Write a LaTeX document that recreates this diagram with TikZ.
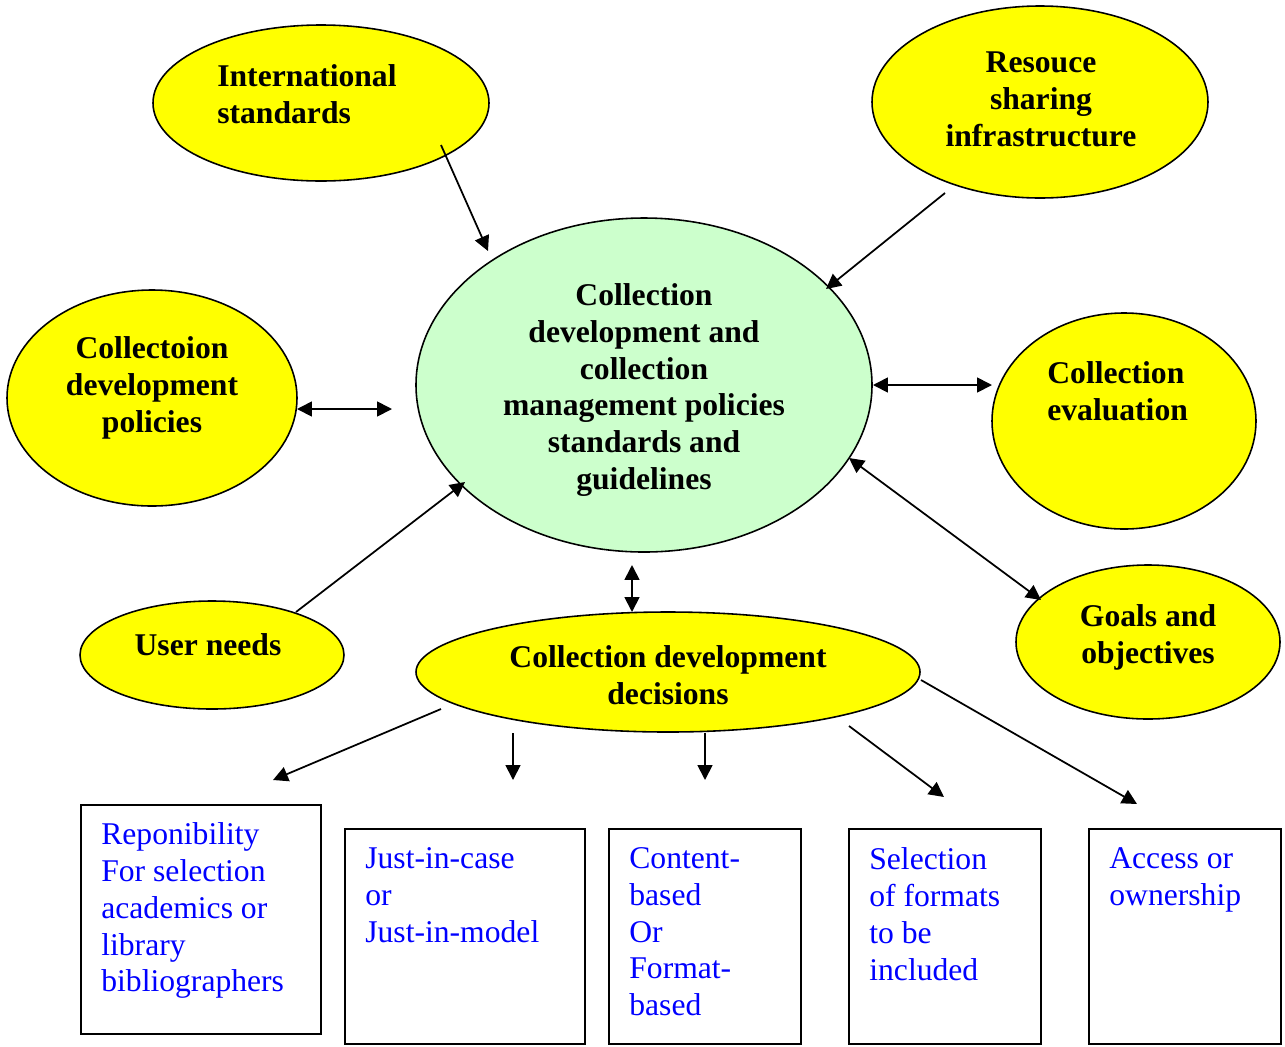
\documentclass[tikz,border=0pt]{standalone}
\usepackage{fontspec}
\setmainfont{Liberation Serif}
\usetikzlibrary{arrows.meta,shapes.geometric}
\definecolor{ylw}{HTML}{FFFF00}
\definecolor{lgreen}{HTML}{CCFFCC}
\definecolor{btext}{HTML}{0000FF}
\begin{document}
\begin{tikzpicture}[x=0.02cm,y=-0.02cm,
  ell/.style={ellipse, draw, line width=0.9pt, fill=ylw, inner sep=0pt},
  lbl/.style={font=\fontsize{18}{21}\selectfont\bfseries, align=center, inner sep=0pt},
  boxn/.style={draw, line width=1.1pt, anchor=north west, inner sep=0pt, outer sep=0pt},
  btxt/.style={font=\fontsize{18}{21}\selectfont, text=btext, align=left, anchor=north west, inner sep=0pt},
  tip/.tip={Triangle[length=8.5pt,width=8.5pt]},
  arr/.style={line width=1pt, -tip},
  darr/.style={line width=1pt, tip-tip}]
\useasboundingbox (0,0) rectangle (1285,1046);

% ellipses
\node[ell, minimum width=336*0.02cm, minimum height=156*0.02cm] (intl) at (321,103) {};
\node[ell, minimum width=336*0.02cm, minimum height=192*0.02cm] (res) at (1040,102) {};
\node[ell, minimum width=290*0.02cm, minimum height=216*0.02cm] (pol) at (152,398) {};
\node[ell, fill=lgreen, minimum width=456*0.02cm, minimum height=334*0.02cm] (cen) at (644,385) {};
\node[ell, minimum width=264*0.02cm, minimum height=216*0.02cm] (eval) at (1124,421) {};
\node[ell, minimum width=264*0.02cm, minimum height=108*0.02cm] (user) at (212,655) {};
\node[ell, minimum width=264*0.02cm, minimum height=154*0.02cm] (goals) at (1148,642) {};
\node[ell, minimum width=504*0.02cm, minimum height=120*0.02cm] (dec) at (668,672) {};

% ellipse texts
\node[lbl, align=left, anchor=west] (intlT) at (217,94) {International\\standards};
\node[lbl] (resT) at (1041,99) {Resouce\\sharing\\infrastructure};
\node[lbl] (polT) at (152,388) {Collectoion\\development\\policies};
\node[lbl] (cenT) at (644,390) {Collection\\development and\\collection\\management policies\\standards and\\guidelines};
\node[lbl, align=left, anchor=west] (evalT) at (1047,391) {Collection\\evaluation};
\node[lbl] (userT) at (208,645) {User needs};
\node[lbl] (goalsT) at (1148,637) {Goals and\\objectives};
\node[lbl] (decT) at (668,675) {Collection development\\decisions};

% boxes
\node[boxn, minimum width=240*0.02cm, minimum height=229*0.02cm] (b1) at (81,805) {};
\node[boxn, minimum width=240*0.02cm, minimum height=215*0.02cm] (b2) at (345,829) {};
\node[boxn, minimum width=192*0.02cm, minimum height=215*0.02cm] (b3) at (609,829) {};
\node[boxn, minimum width=192*0.02cm, minimum height=215*0.02cm] (b4) at (849,829) {};
\node[boxn, minimum width=192*0.02cm, minimum height=215*0.02cm] (b5) at (1089,829) {};

\node[btxt] (b1T) at (101,822) {Reponibility\\For selection\\academics or\\library\\bibliographers};
\node[btxt] (b2T) at (365,847) {Just-in-case\\or\\Just-in-model};
\node[btxt] (b3T) at (629,847) {Content-\\based\\Or\\Format-\\based};
\node[btxt] (b4T) at (869,847) {Selection\\of formats\\to be\\included};
\node[btxt] (b5T) at (1109,847) {Access or\\ownership};

% connector end points
\coordinate (c1s) at (441,145); \coordinate (c1e) at (488,251);
\coordinate (c2s) at (945,193); \coordinate (c2e) at (826,289);
\coordinate (c3s) at (297,409); \coordinate (c3e) at (392,409);
\coordinate (c4s) at (873,385); \coordinate (c4e) at (992,385);
\coordinate (c5s) at (296,612); \coordinate (c5e) at (465,482);
\coordinate (c6s) at (849,458); \coordinate (c6e) at (1041,600);
\coordinate (c7s) at (632,565); \coordinate (c7e) at (632,612);
\coordinate (c8s) at (441,709); \coordinate (c8e) at (273,780);
\coordinate (c9s) at (513,733); \coordinate (c9e) at (513,780);
\coordinate (c10s) at (705,733); \coordinate (c10e) at (705,780);
\coordinate (c11s) at (849,726); \coordinate (c11e) at (944,797);
\coordinate (c12s) at (921,680); \coordinate (c12e) at (1137,804);

\draw[arr] (c1s) -- (c1e);
\draw[arr] (c2s) -- (c2e);
\draw[darr] (c3s) -- (c3e);
\draw[darr] (c4s) -- (c4e);
\draw[arr] (c5s) -- (c5e);
\draw[darr] (c6s) -- (c6e);
\draw[darr] (c7s) -- (c7e);
\draw[arr] (c8s) -- (c8e);
\draw[arr] (c9s) -- (c9e);
\draw[arr] (c10s) -- (c10e);
\draw[arr] (c11s) -- (c11e);
\draw[arr] (c12s) -- (c12e);
\end{tikzpicture}
\end{document}
